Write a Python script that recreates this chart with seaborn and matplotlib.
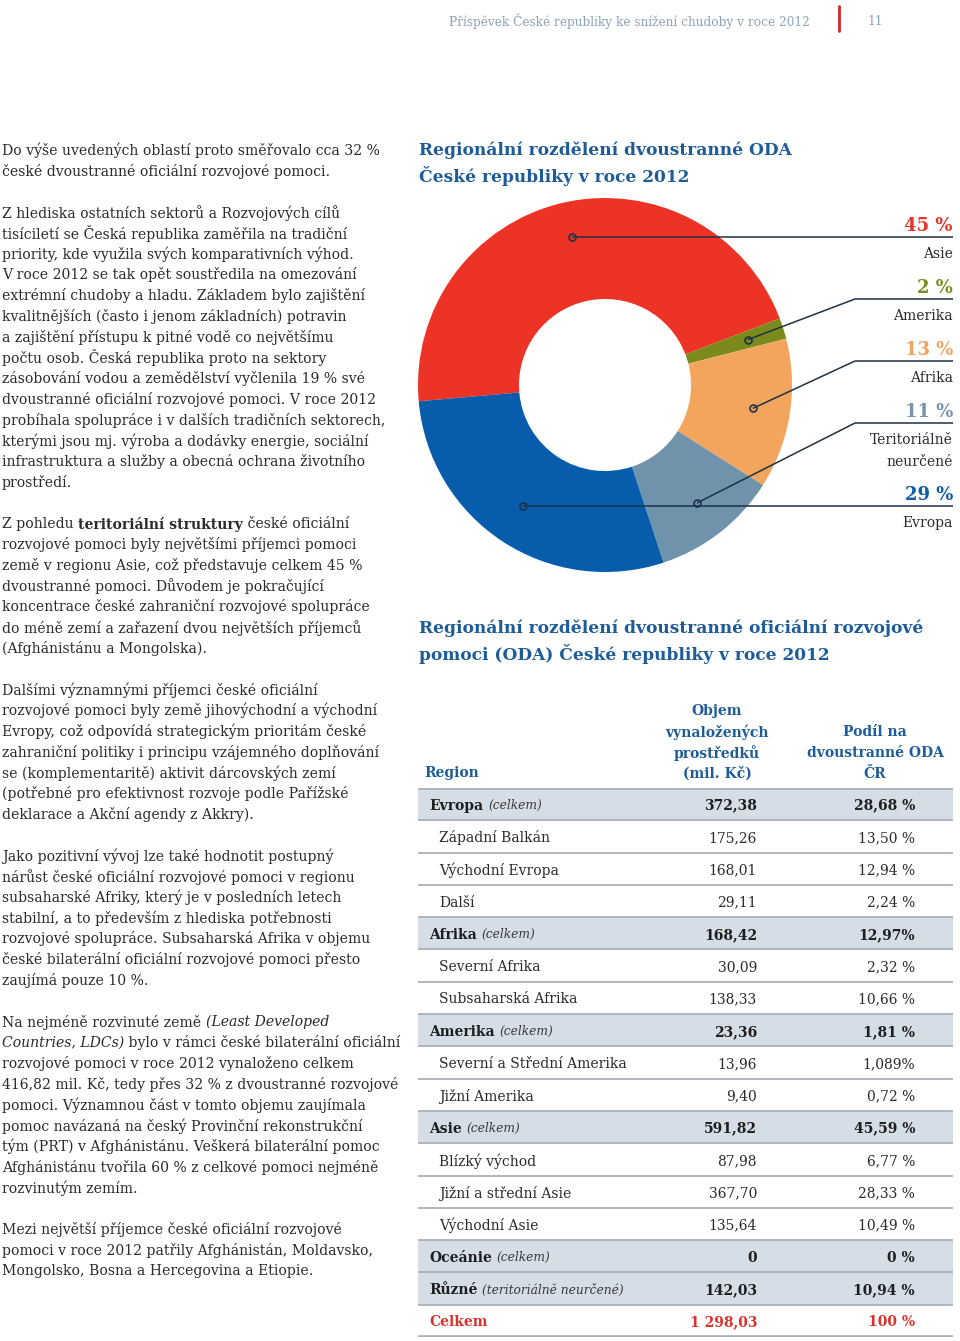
import re

import matplotlib
matplotlib.use("Agg")
import matplotlib.pyplot as plt
import matplotlib.transforms as mtransforms
from matplotlib.lines import Line2D
import numpy as np
import pandas as pd
import seaborn as sns

# ---- donut data -------------------------------------------------------------
donut_regions = ["Asie", "Amerika", "Afrika", "Teritoriálně\nneurčené", "Evropa"]
donut_shares = [45.59, 1.81, 12.97, 10.94, 28.68]
donut_pct_labels = ["45 %", "2 %", "13 %", "11 %", "29 %"]
donut_colors = ["#EC3326", "#7A8B1C", "#F4A55D", "#6F93AB", "#075CAB"]
label_colors = ["#E5332A", "#7D8C1F", "#F0A35E", "#7393AE", "#0F5CA8"]

# ---- table data -------------------------------------------------------------
table_regions = ["Evropa", "Západní Balkán", "Východní Evropa", "Další",
                 "Afrika", "Severní Afrika", "Subsaharská Afrika",
                 "Amerika", "Severní a Střední Amerika", "Jižní Amerika",
                 "Asie", "Blízký východ", "Jižní a střední Asie", "Východní Asie",
                 "Oceánie", "Různé", "Celkem"]
table_notes = ["(celkem)", "", "", "", "(celkem)", "", "", "(celkem)", "", "",
               "(celkem)", "", "", "", "(celkem)", "(teritoriálně neurčené)", ""]
table_amounts = ["372,38", "175,26", "168,01", "29,11", "168,42", "30,09", "138,33",
                 "23,36", "13,96", "9,40", "591,82", "87,98", "367,70", "135,64",
                 "0", "142,03", "1 298,03"]
table_shares = ["28,68 %", "13,50 %", "12,94 %", "2,24 %", "12,97%", "2,32 %", "10,66 %",
                "1,81 %", "1,089%", "0,72 %", "45,59 %", "6,77 %", "28,33 %", "10,49 %",
                "0 %", "10,94 %", "100 %"]
table_kind = ["total", "sub", "sub", "sub", "total", "sub", "sub", "total", "sub", "sub",
              "total", "sub", "sub", "sub", "total", "total", "grand"]

# ---- page text ----------------------------------------------------------------
header_text = "Příspěvek České republiky ke snížení chudoby v roce 2012"
page_number = "11"
title_donut = ["Regionální rozdělení dvoustranné ODA", "České republiky v roce 2012"]
title_table = ["Regionální rozdělení dvoustranné oficiální rozvojové",
               "pomoci (ODA) České republiky v roce 2012"]
col_headers = [["Region"],
               ["Objem", "vynaložených", "prostředků", "(mil. Kč)"],
               ["Podíl na", "dvoustranné ODA", "ČR"]]

body = [
    ["Do výše uvedených oblastí proto směřovalo cca 32 %",
     "české dvoustranné oficiální rozvojové pomoci."],
    ["Z hlediska ostatních sektorů a Rozvojových cílů",
     "tisíciletí se Česká republika zaměřila na tradiční",
     "priority, kde využila svých komparativních výhod.",
     "V roce 2012 se tak opět soustředila na omezování",
     "extrémní chudoby a hladu. Základem bylo zajištění",
     "kvalitnějších (často i jenom základních) potravin",
     "a zajištění přístupu k pitné vodě co největšímu",
     "počtu osob. Česká republika proto na sektory",
     "zásobování vodou a zemědělství vyčlenila 19 % své",
     "dvoustranné oficiální rozvojové pomoci. V roce 2012",
     "probíhala spolupráce i v dalších tradičních sektorech,",
     "kterými jsou mj. výroba a dodávky energie, sociální",
     "infrastruktura a služby a obecná ochrana životního",
     "prostředí."],
    ["Z pohledu **teritoriální struktury** české oficiální",
     "rozvojové pomoci byly největšími příjemci pomoci",
     "země v regionu Asie, což představuje celkem 45 %",
     "dvoustranné pomoci. Důvodem je pokračující",
     "koncentrace české zahraniční rozvojové spolupráce",
     "do méně zemí a zařazení dvou největších příjemců",
     "(Afghánistánu a Mongolska)."],
    ["Dalšími významnými příjemci české oficiální",
     "rozvojové pomoci byly země jihovýchodní a východní",
     "Evropy, což odpovídá strategickým prioritám české",
     "zahraniční politiky i principu vzájemného doplňování",
     "se (komplementaritě) aktivit dárcovských zemí",
     "(potřebné pro efektivnost rozvoje podle Pařížské",
     "deklarace a Akční agendy z Akkry)."],
    ["Jako pozitivní vývoj lze také hodnotit postupný",
     "nárůst české oficiální rozvojové pomoci v regionu",
     "subsaharské Afriky, který je v posledních letech",
     "stabilní, a to především z hlediska potřebnosti",
     "rozvojové spolupráce. Subsaharská Afrika v objemu",
     "české bilaterální oficiální rozvojové pomoci přesto",
     "zaujímá pouze 10 %."],
    ["Na nejméně rozvinuté země __(Least Developed__",
     "__Countries, LDCs)__ bylo v rámci české bilaterální oficiální",
     "rozvojové pomoci v roce 2012 vynaloženo celkem",
     "416,82 mil. Kč, tedy přes 32 % z dvoustranné rozvojové",
     "pomoci. Významnou část v tomto objemu zaujímala",
     "pomoc navázaná na český Provinční rekonstrukční",
     "tým (PRT) v Afghánistánu. Veškerá bilaterální pomoc",
     "Afghánistánu tvořila 60 % z celkové pomoci nejméně",
     "rozvinutým zemím."],
    ["Mezi největší příjemce české oficiální rozvojové",
     "pomoci v roce 2012 patřily Afghánistán, Moldavsko,",
     "Mongolsko, Bosna a Hercegovina a Etiopie."],
]

W, H = 960, 1341
BLUE = "#1D5C98"
DARK = "#2B2B2B"
LINE = "#1C3247"

sns.set_theme(style="white")
plt.rcParams["font.family"] = ["DejaVu Serif", "DejaVu Sans"]

fig = plt.figure(figsize=(W / 100, H / 100), dpi=100)
renderer = fig.canvas.get_renderer()


def fx(x):
    return x / W


def fy(y):
    return 1 - y / H


def text_width(s, **kw):
    t = fig.text(0, 0, s + "|", **kw)
    t2 = fig.text(0, 0, "|", **kw)
    w = t.get_window_extent(renderer).width - t2.get_window_extent(renderer).width
    t.remove()
    t2.remove()
    return w


def rich_line(x, y, line, size, color):
    for part in re.split(r"(\*\*.*?\*\*|__.*?__)", line):
        if not part:
            continue
        kw = dict(fontsize=size, color=color)
        if part.startswith("**"):
            part, kw["fontweight"] = part[2:-2], "bold"
        elif part.startswith("__"):
            part, kw["fontstyle"] = part[2:-2], "italic"
        fig.text(fx(x), fy(y), part, va="center_baseline", **kw)
        x += text_width(part, **kw)


# ---- header -------------------------------------------------------------------
fig.text(fx(810), fy(20), header_text, ha="right", va="center_baseline",
         fontsize=8.75, color="#8DA3B8")
fig.add_artist(Line2D([fx(839), fx(839)], [fy(6), fy(31)], color="#D7262C", lw=2))
fig.text(fx(875), fy(20), page_number, ha="center", va="center_baseline",
         fontsize=8.75, color="#8DA3B8")

# ---- left column body text ------------------------------------------------------
n = 0
for para in body:
    for line in para:
        rich_line(2, 149 + 20.75 * n, line, 10.05, DARK)
        n += 1
    n += 1

# ---- titles -----------------------------------------------------------------------
for i, t in enumerate(title_donut):
    fig.text(fx(419), fy(148 + 26.5 * i), t, va="center_baseline",
             fontsize=12.25, fontweight="bold", color=BLUE)
for i, t in enumerate(title_table):
    fig.text(fx(419), fy(626 + 26.5 * i), t, va="center_baseline",
             fontsize=12.25, fontweight="bold", color=BLUE)

# ---- donut ------------------------------------------------------------------------
CX, CY, R = 605, 385, 187
left, right, top, bottom = 418, 953, 195, 575
ax_d = fig.add_axes([fx(left), fy(bottom), (right - left) / W, (bottom - top) / H])
wedges, _ = ax_d.pie(donut_shares, colors=donut_colors, startangle=185,
                     counterclock=False, radius=1,
                     wedgeprops=dict(width=0.54, linewidth=0))
x_end = (right - CX) / R
x_elbow = (855 - CX) / R

py = 224
for w, name, pct, col in zip(wedges, donut_regions, donut_pct_labels, label_colors):
    mid = np.deg2rad((w.theta1 + w.theta2) / 2)
    dx, dy = 0.8 * np.cos(mid), 0.8 * np.sin(mid)
    ly = (CY - (py + 13)) / R
    if abs(dy - ly) < 0.1:
        # leader runs straight across
        dy = ly
    ax_d.plot([dx, x_elbow, x_end], [dy, ly, ly], color=LINE, lw=1.1,
              solid_capstyle="butt", clip_on=False)
    ax_d.plot(dx, dy, "o", mfc="none", mec=LINE, mew=1.2, ms=5, clip_on=False)
    ax_d.text(x_end, (CY - py) / R, pct, ha="right", va="center_baseline",
              fontsize=13, fontweight="bold", color=col)
    name_lines = name.split("\n")
    for k, nl in enumerate(name_lines):
        ax_d.text(x_end, (CY - (py + 29 + 21 * k)) / R, nl, ha="right",
                  va="center_baseline", fontsize=10, color=DARK)
    py += 62 + 21 * (len(name_lines) - 1)

ax_d.set_xlim(-(CX - left) / R, x_end)
ax_d.set_ylim(-(bottom - CY) / R, (CY - top) / R)
ax_d.set_aspect("equal")
ax_d.axis("off")

# ---- table header -------------------------------------------------------------------
fig.text(fx(424), fy(772), col_headers[0][0], va="center_baseline",
         fontsize=10, fontweight="bold", color=BLUE)
for cx, lines in zip([717, 875], col_headers[1:]):
    for k, t in enumerate(reversed(lines)):
        fig.text(fx(cx), fy(772 - 20.7 * k), t, ha="center", va="center_baseline",
                 fontsize=10, fontweight="bold", color=BLUE)

# ---- table body ---------------------------------------------------------------------
t_top, t_bot = 788, 1337
ax_t = fig.add_axes([fx(418), fy(t_bot), (953 - 418) / W, (t_bot - t_top) / H])
nrows = len(table_regions)
tbl = pd.DataFrame({"row": [str(i) for i in range(nrows)],
                    "fill": [1 if k == "total" else 0 for k in table_kind]})
sns.barplot(data=tbl, x="fill", y="row", orient="h", width=1.0, color="#D5DDE6",
            saturation=1, linewidth=0, errorbar=None, ax=ax_t)
ax_t.set_xlim(0, 1)
ax_t.set_ylim(nrows - 0.5, -0.5)
ax_t.hlines(np.arange(nrows - 1) + 0.5, 0, 1, color="#A9B1B9", lw=1.3)
ax_t.hlines([-0.5, nrows - 0.5], 0, 1, color="#A9B1B9", lw=2.6)
ax_t.axis("off")

for i, (reg, note, amt, shr, kind) in enumerate(
        zip(table_regions, table_notes, table_amounts, table_shares, table_kind)):
    if kind == "sub":
        kw = dict(fontsize=10, color=DARK)
        x0 = 21 / 535
    elif kind == "total":
        kw = dict(fontsize=10, color="#1E1E1E", fontweight="bold")
        x0 = 11 / 535
    else:
        kw = dict(fontsize=10, color="#D9322B", fontweight="bold")
        x0 = 11 / 535
    ax_t.text(x0, i, reg, va="center_baseline", **kw)
    if note:
        off = mtransforms.offset_copy(ax_t.transData, fig=fig,
                                      x=text_width(reg + " ", **kw), units="dots")
        ax_t.text(x0, i, note, va="center_baseline", transform=off,
                  fontsize=8.8, fontstyle="italic", color="#3A3A3A")
    ax_t.text(339 / 535, i, amt, ha="right", va="center_baseline", **kw)
    ax_t.text(497 / 535, i, shr, ha="right", va="center_baseline", **kw)

fig.savefig("out.png", dpi=100, facecolor="white")
